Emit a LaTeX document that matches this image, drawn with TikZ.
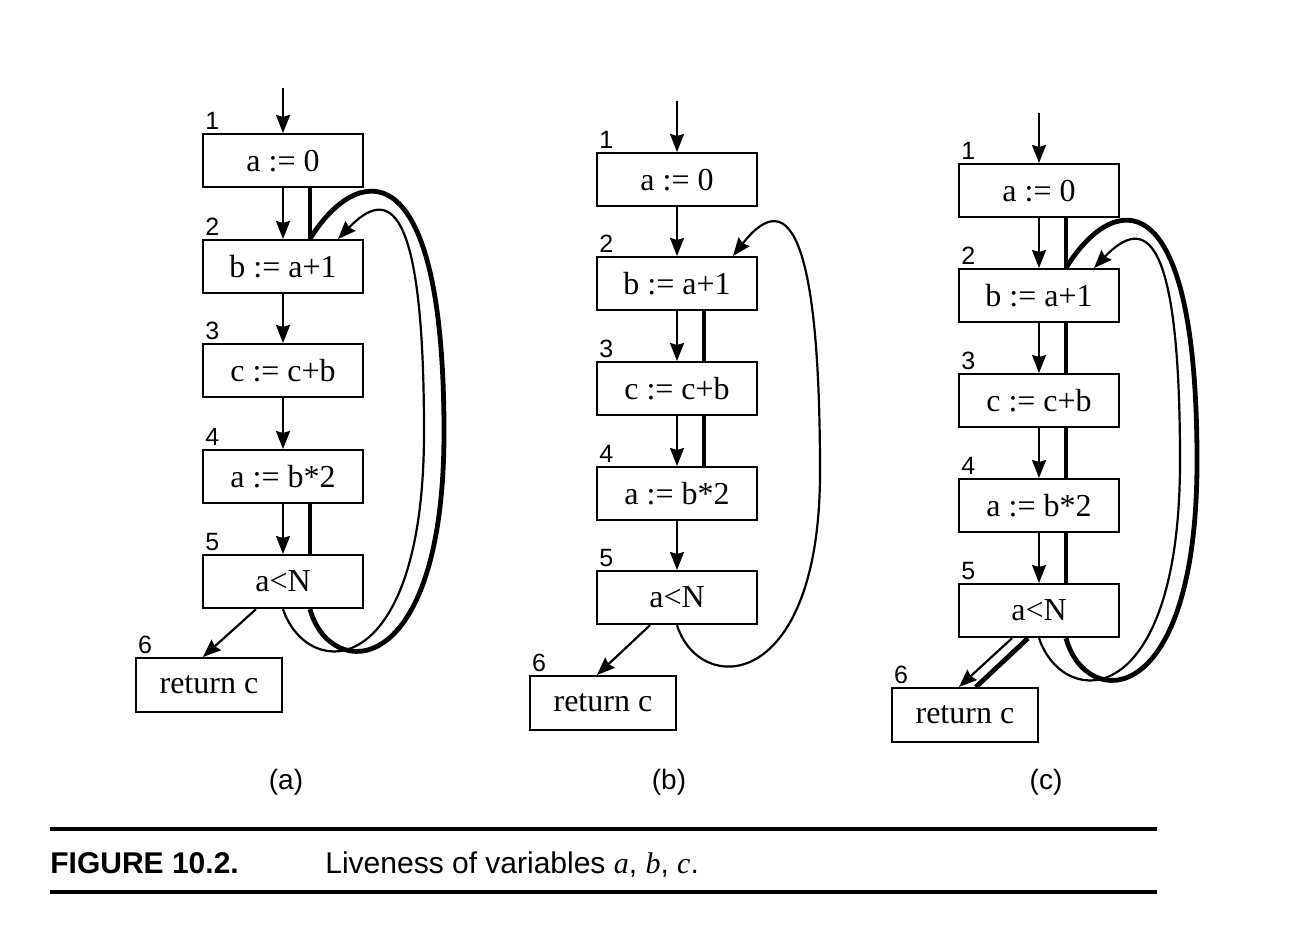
\documentclass[tikz,border=0pt]{standalone}
\usepackage{fontspec}
\setmainfont{Liberation Serif}
\setsansfont{Liberation Sans}
\usetikzlibrary{arrows.meta,calc}
\begin{document}
\begin{tikzpicture}[x=0.5pt,y=-0.5pt,
  box/.style={draw, line width=1.1pt, minimum width=80pt, minimum height=26.5pt, inner sep=0pt, font=\fontsize{16}{17}\selectfont},
  rbox/.style={box, minimum width=73pt, minimum height=27pt},
  num/.style={font=\sffamily\fontsize{12.5}{13}\selectfont, inner sep=0pt, anchor=base west},
  arr/.style={line width=1.1pt, -{Stealth[length=9pt,width=7pt,inset=1pt]}},
  live/.style={line width=2.4pt},
  sub/.style={font=\sffamily\fontsize{14}{16}\selectfont, inner sep=0pt},
  capt/.style={font=\sffamily\fontsize{15}{17}\selectfont, inner sep=0pt, anchor=base west},
]
\fill[white] (0,0) rectangle (1305,938);
\useasboundingbox (0,0) rectangle (1305,938);

% ---------------- (a) ----------------
\coordinate (a0) at (283,88);
\node[box,anchor=north] (a1) at (283,133) {a := 0};
\node[box,anchor=north] (a2) at (283,239) {b := a+1};
\node[box,anchor=north] (a3) at (283,343) {c := c+b};
\node[box,anchor=north] (a4) at (283,449) {a := b*2};
\node[box,anchor=north] (a5) at (283,554) {a<N};
\node[rbox,anchor=north east] (a6) at (283,657) {return c};
\foreach \i in {1,...,6} {
  \node[num] (a\i n) at ([xshift=1.5pt,yshift=2pt]a\i.north west) {\i};
}
\draw[arr] (a0) -- (a1.north);
\draw[arr] (a1.south) -- (a2.north);
\draw[arr] (a2.south) -- (a3.north);
\draw[arr] (a3.south) -- (a4.north);
\draw[arr] (a4.south) -- (a5.north);
\draw[arr] ([xshift=-13.5pt]a5.south) -- ([xshift=-3pt]a6.north);
\draw[live] ([xshift=13.5pt]a1.south) -- ([xshift=13.5pt]a2.north);
\draw[live] ([xshift=13.5pt]a4.south) -- ([xshift=13.5pt]a5.north);
% loops
\draw[arr] (a5.south) .. controls ($(a5.south)+(25,73)$) and ($(a5.south)+(141,73)$) ..
  ($(a5.south)+(141,-177)$) .. controls ($(a5.south)+(141,-410)$) and ($(a2.north)+(105,-52)$) ..
  ([xshift=27.5pt]a2.north);
\draw[live] ([xshift=13.5pt]a5.south) .. controls ($(a5.south)+(47,73)$) and ($(a5.south)+(161,73)$) ..
  ($(a5.south)+(161,-177)$) .. controls ($(a5.south)+(161,-467)$) and ($(a2.north)+(72,-74)$) ..
  ([xshift=13.5pt]a2.north);
\node[sub] (la) at (286,782) {(a)};

% ---------------- (b) ----------------
\coordinate (b0) at (677,101);
\node[box,anchor=north] (b1) at (677,152) {a := 0};
\node[box,anchor=north] (b2) at (677,256) {b := a+1};
\node[box,anchor=north] (b3) at (677,361) {c := c+b};
\node[box,anchor=north] (b4) at (677,466) {a := b*2};
\node[box,anchor=north] (b5) at (677,570) {a<N};
\node[rbox,anchor=north east] (b6) at (677,675) {return c};
\foreach \i in {1,...,6} {
  \node[num] (b\i n) at ([xshift=1.5pt,yshift=2pt]b\i.north west) {\i};
}
\draw[arr] (b0) -- (b1.north);
\draw[arr] (b1.south) -- (b2.north);
\draw[arr] (b2.south) -- (b3.north);
\draw[arr] (b3.south) -- (b4.north);
\draw[arr] (b4.south) -- (b5.north);
\draw[arr] ([xshift=-13.5pt]b5.south) -- ([xshift=-3pt]b6.north);
\draw[live] ([xshift=13.5pt]b2.south) -- ([xshift=13.5pt]b3.north);
\draw[live] ([xshift=13.5pt]b3.south) -- ([xshift=13.5pt]b4.north);
\draw[arr] (b5.south) .. controls ($(b5.south)+(23,72)$) and ($(b5.south)+(143,67)$) ..
  ($(b5.south)+(143,-153)$) .. controls ($(b5.south)+(143,-373)$) and ($(b2.north)+(116,-77)$) ..
  ([xshift=28pt]b2.north);
\node[sub] (lb) at (669,782) {(b)};

% ---------------- (c) ----------------
\coordinate (c0) at (1039,113);
\node[box,anchor=north] (c1) at (1039,163) {a := 0};
\node[box,anchor=north] (c2) at (1039,268) {b := a+1};
\node[box,anchor=north] (c3) at (1039,373) {c := c+b};
\node[box,anchor=north] (c4) at (1039,478) {a := b*2};
\node[box,anchor=north] (c5) at (1039,583) {a<N};
\node[rbox,anchor=north east] (c6) at (1039,687) {return c};
\foreach \i in {1,...,6} {
  \node[num] (c\i n) at ([xshift=1.5pt,yshift=2pt]c\i.north west) {\i};
}
\draw[arr] (c0) -- (c1.north);
\draw[arr] (c1.south) -- (c2.north);
\draw[arr] (c2.south) -- (c3.north);
\draw[arr] (c3.south) -- (c4.north);
\draw[arr] (c4.south) -- (c5.north);
\draw[arr] ([xshift=-13.5pt]c5.south) -- ([xshift=-3pt]c6.north);
\draw[live] ([xshift=-5.5pt]c5.south) -- ([xshift=5.5pt]c6.north);
\draw[live] ([xshift=13.5pt]c1.south) -- ([xshift=13.5pt]c2.north);
\draw[live] ([xshift=13.5pt]c2.south) -- ([xshift=13.5pt]c3.north);
\draw[live] ([xshift=13.5pt]c3.south) -- ([xshift=13.5pt]c4.north);
\draw[live] ([xshift=13.5pt]c4.south) -- ([xshift=13.5pt]c5.north);
\draw[arr] (c5.south) .. controls ($(c5.south)+(25,73)$) and ($(c5.south)+(141,73)$) ..
  ($(c5.south)+(141,-177)$) .. controls ($(c5.south)+(141,-410)$) and ($(c2.north)+(105,-52)$) ..
  ([xshift=27.5pt]c2.north);
\draw[live] ([xshift=13.5pt]c5.south) .. controls ($(c5.south)+(47,73)$) and ($(c5.south)+(158,73)$) ..
  ($(c5.south)+(158,-177)$) .. controls ($(c5.south)+(158,-467)$) and ($(c2.north)+(72,-74)$) ..
  ([xshift=13.5pt]c2.north);
\node[sub] (lc) at (1046,782) {(c)};

% ---------------- caption ----------------
\coordinate (r1l) at (50,829); \coordinate (r1r) at (1157,829);
\coordinate (r2l) at (50,892); \coordinate (r2r) at (1157,892);
\draw[line width=1.6pt] (r1l) -- (r1r);
\draw[line width=1.8pt] (r2l) -- (r2r);
\node[capt] (fig) at (50,873) {\bfseries FIGURE 10.2.};
\node[capt] (cap) at (325,873) {Liveness of variables {\rmfamily\itshape a}, {\rmfamily\itshape b}, {\rmfamily\itshape c}.};
\end{tikzpicture}
\end{document}
